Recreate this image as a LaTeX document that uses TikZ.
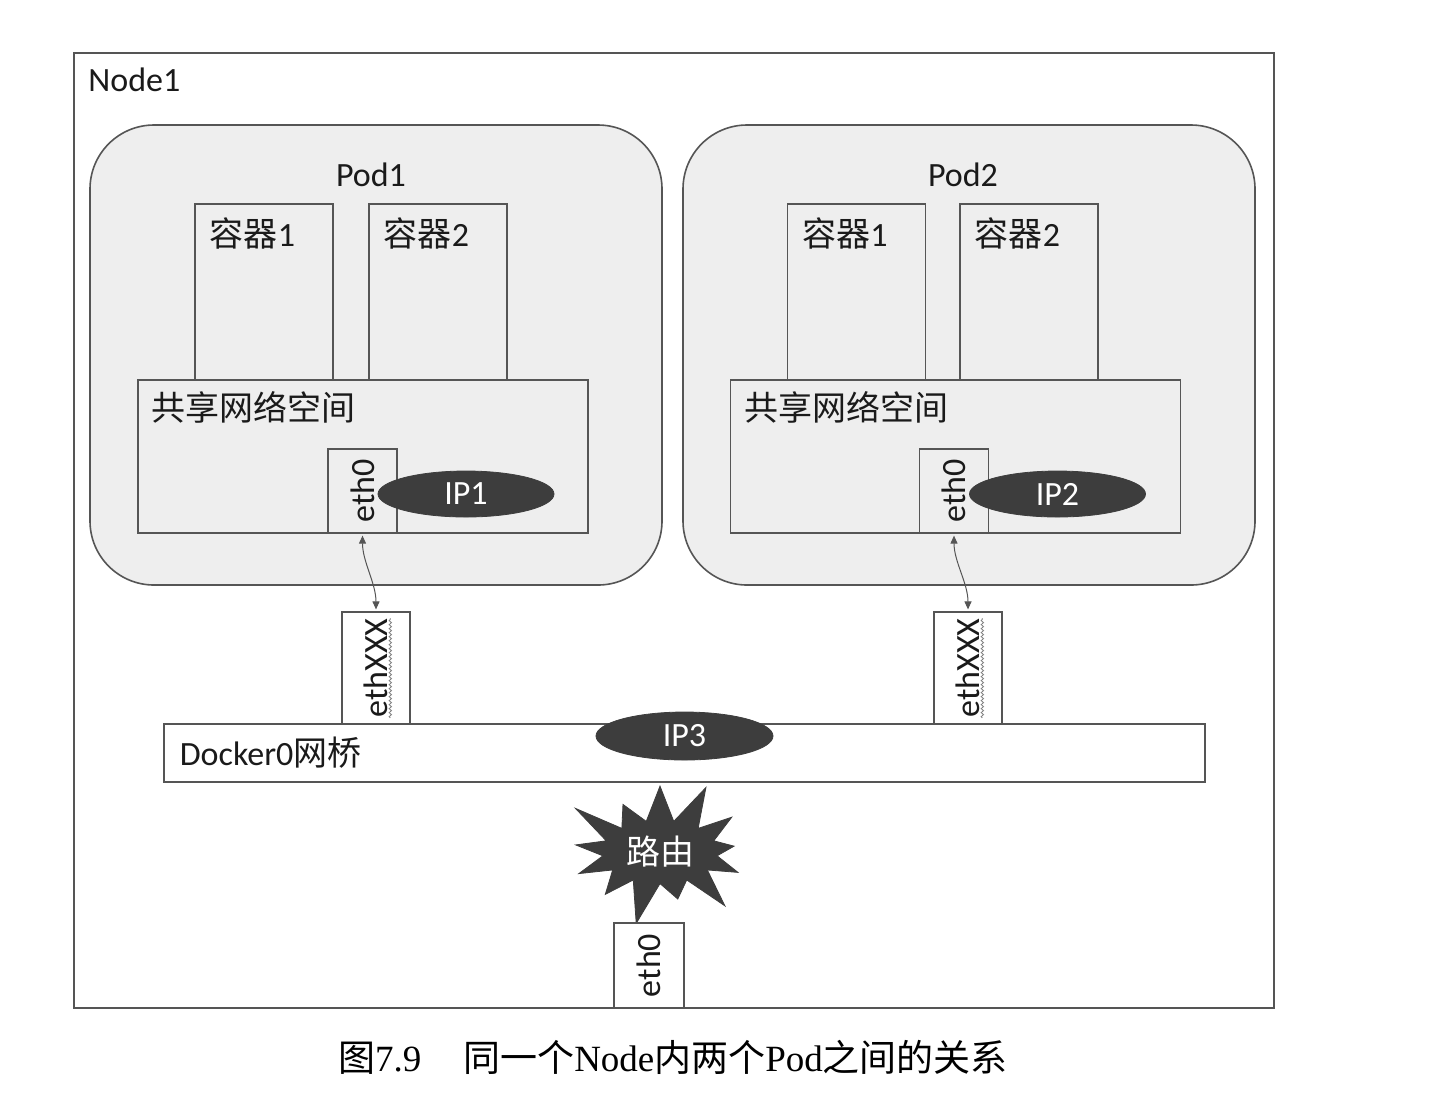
\documentclass[tikz,border=0pt]{standalone}
\usepackage{fontspec}
\setmainfont{Carlito}
\newfontfamily\cjk{Noto Sans CJK SC}
\newfontfamily\capserif{Liberation Serif}
\usepackage{tikz}
\usetikzlibrary{shapes.geometric, shapes.symbols, arrows.meta, positioning, decorations.pathmorphing}
\definecolor{linegray}{HTML}{555555}
\definecolor{podfill}{HTML}{EEEEEE}
\definecolor{ipfill}{HTML}{3D3D3D}
\definecolor{inkblack}{HTML}{1A1A1A}
\tikzset{
  txt/.style={font=\fontsize{17}{20}\selectfont, text=inkblack, inner sep=0pt},
  vtxt/.style={txt, rotate=90},
  hostbox/.style={rectangle, draw=linegray, line width=0.8pt,
                  minimum width=600pt, minimum height=477.5pt},
  podbox/.style={rectangle, draw=linegray, fill=podfill, rounded corners=32pt,
                 line width=0.8pt, minimum width=286pt, minimum height=230pt},
  ctrbox/.style={rectangle, draw=linegray, fill=podfill, line width=0.6pt,
                 minimum width=69pt, minimum height=88pt},
  netns/.style={rectangle, draw=linegray, fill=podfill, line width=0.6pt,
                minimum width=225pt, minimum height=76.5pt},
  ifbox/.style={rectangle, draw=linegray, fill=podfill, line width=0.6pt,
                minimum width=34.5pt, minimum height=42pt},
  vethbox/.style={ifbox, fill=white, minimum width=34pt, minimum height=56pt},
  bridge/.style={rectangle, draw=linegray, fill=white, line width=0.6pt,
                 minimum width=520.5pt, minimum height=29pt},
  ipoval/.style={ellipse, draw=ipfill, fill=ipfill, text=white, inner sep=0pt,
                 minimum width=88pt, minimum height=23pt, font=\fontsize{17}{20}\selectfont},
  link/.style={{Triangle[length=4pt,width=3.5pt]}-{Triangle[length=4pt,width=3.5pt]},
               draw=linegray, line width=0.5pt, shorten <=1pt, shorten >=1pt},
  squiggle/.style={draw=gray, line width=0.4pt, decorate,
                   decoration={snake, amplitude=0.6pt, segment length=2pt}},
}
\begin{document}
\begin{tikzpicture}[x=0.5pt, y=-0.5pt]
  \useasboundingbox (0,0) rectangle (1434,1116);

  \node[hostbox] (node1) at (674,530.5) {};
  \node[txt, anchor=west] (node1lbl) at (88,80) {Node1};

  % Pod1
  \node[podbox] (pod1) at (376,355) {};
  \node[txt] (pod1lbl) at (371,175) {Pod1};
  \node[ctrbox] (ctr11) at (264,292) {};
  \node[ctrbox] (ctr12) at (438,292) {};
  \node[txt, anchor=north west] (ctr11lbl) at ([xshift=7.5pt, yshift=-7pt]ctr11.north west) {{\cjk 容器}1};
  \node[txt, anchor=north west] (ctr12lbl) at ([xshift=7.5pt, yshift=-7pt]ctr12.north west) {{\cjk 容器}2};
  \node[netns] (ns1) at (363,456.5) {};
  \node[txt, anchor=north west] (ns1lbl) at ([xshift=7pt, yshift=-6pt]ns1.north west) {\cjk 共享网络空间};
  \node[ifbox] (eth01) at (362.5,491) {};
  \node[vtxt] (eth01lbl) at (eth01) {eth0};
  \node[ipoval] (ip1) at (466,494) {IP1};

  % Pod2
  \node[podbox] (pod2) at (969,355) {};
  \node[txt] (pod2lbl) at (963,175) {Pod2};
  \node[ctrbox] (ctr21) at (856.5,292) {};
  \node[ctrbox] (ctr22) at (1029,292) {};
  \node[txt, anchor=north west] (ctr21lbl) at ([xshift=7.5pt, yshift=-7pt]ctr21.north west) {{\cjk 容器}1};
  \node[txt, anchor=north west] (ctr22lbl) at ([xshift=7.5pt, yshift=-7pt]ctr22.north west) {{\cjk 容器}2};
  \node[netns] (ns2) at (955.5,456.5) {};
  \node[txt, anchor=north west] (ns2lbl) at ([xshift=7pt, yshift=-6pt]ns2.north west) {\cjk 共享网络空间};
  \node[ifbox] (eth02) at (954,491) {};
  \node[vtxt] (eth02lbl) at (eth02) {eth0};
  \node[ipoval] (ip2) at (1057.5,494) {IP2};

  % veth pairs and bridge
  \node[vethbox] (vethx1) at (376,668) {};
  \node[vtxt] (vethx1lbl) at (vethx1) {ethXXX};
  \node[vethbox] (vethx2) at (968,668) {};
  \node[vtxt] (vethx2lbl) at (vethx2) {ethXXX};
  \draw[squiggle] ([xshift=1pt]vethx1lbl.south west) -- ([xshift=1pt]vethx1lbl.south east);
  \draw[squiggle] ([xshift=1pt]vethx2lbl.south west) -- ([xshift=1pt]vethx2lbl.south east);

  \node[bridge] (docker0) at (684.5,753) {};
  \node[txt, anchor=west] (docker0lbl) at ([xshift=8pt]docker0.west) {Docker0{\cjk 网桥}};
  \node[ipoval, minimum width=88.5pt, minimum height=24pt] (ip3) at (684.5,736) {IP3};

  \draw[link] (eth01.south) .. controls +(0,28) and +(0,-28) .. (vethx1.north);
  \draw[link] (eth02.south) .. controls +(0,28) and +(0,-28) .. (vethx2.north);

  % routing
  \node[starburst, starburst points=13, starburst point height=24pt,
        fill=ipfill, draw=ipfill, text=white, minimum width=74pt, minimum height=73pt,
        font=\fontsize{17}{20}\selectfont] (router) at (660,852) {\cjk 路由};
  \node[ifbox, fill=white, minimum width=35pt, minimum height=42.5pt] (eth0host) at (649,965.5) {};
  \node[vtxt] (eth0hostlbl) at (eth0host) {eth0};

  \node[font=\capserif\fontsize{18.5}{20}\selectfont, inner sep=0pt] (caption) at (673,1057)
    {{\cjk 图}7.9\hspace{21pt}{\cjk 同一个}Node{\cjk 内两个}Pod{\cjk 之间的关系}};
\end{tikzpicture}
\end{document}
